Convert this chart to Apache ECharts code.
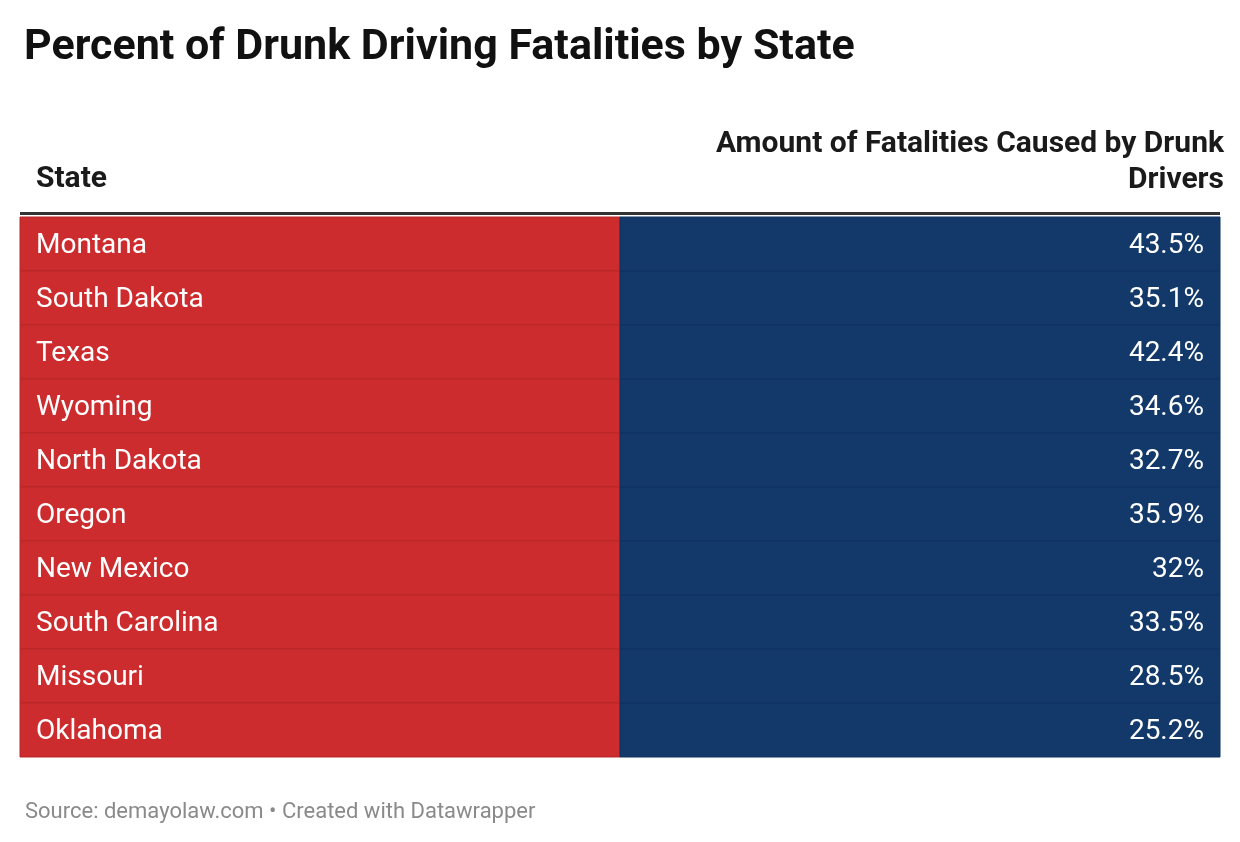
<!DOCTYPE html>
<html>
<head>
<meta charset="utf-8">
<script src="https://cdn.jsdelivr.net/npm/echarts@6/dist/echarts.min.js"></script>
<style>
	html, body { margin: 0; padding: 0; background: #fff; }
	#chart { width: 1240px; height: 842px; }
</style>
</head>
<body>
<div id="chart"></div>
<script>
var states = ['Montana', 'South Dakota', 'Texas', 'Wyoming', 'North Dakota', 'Oregon', 'New Mexico', 'South Carolina', 'Missouri', 'Oklahoma'];
var percentLabels = ['43.5%', '35.1%', '42.4%', '34.6%', '32.7%', '35.9%', '32%', '33.5%', '28.5%', '25.2%'];
var columnHeaders = ['State', 'Amount of Fatalities Caused by Drunk\nDrivers'];

var redColor = '#cd2c2e';
var blueColor = '#12396a';
var font = 'Roboto, "Noto Sans", sans-serif';

var myChart = echarts.init(document.getElementById('chart'));

var rows = states.map(function (s, i) {
	return [i, s, percentLabels[i]];
});

var option = {
	animation: false,
	title: [{
		text: 'Percent of Drunk Driving Fatalities by State',
		left: 19,
		top: 22,
		textStyle: { fontFamily: font, fontSize: 43, fontWeight: 'bold', color: '#111' }
	}, {
		text: 'Source: demayolaw.com • Created with Datawrapper',
		left: 20,
		top: 796,
		textStyle: { fontFamily: font, fontSize: 22, fontWeight: 'normal', color: '#8a8a8a' }
	}],
	grid: { left: 20, right: 20, top: 217, height: 540 },
	xAxis: { type: 'value', min: 0, max: 2, show: false },
	yAxis: { type: 'category', data: states, inverse: true, show: false },
	graphic: [{
		type: 'text', left: 36, top: 164,
		style: { text: columnHeaders[0], font: 'bold 30px ' + font, fill: '#1a1a1a' }
	}, {
		type: 'text', right: 16, top: 126,
		style: { text: columnHeaders[1], font: 'bold 30px ' + font, fill: '#1a1a1a', textAlign: 'right', lineHeight: 36 }
	}, {
		type: 'rect', left: 20, top: 212, shape: { width: 1200, height: 3 },
		style: { fill: '#333' }
	}],
	series: [{
		type: 'custom',
		data: rows,
		encode: { y: 0 },
		renderItem: function (params, api) {
			var idx = api.value(0);
			var p0 = api.coord([0, idx]);
			var p1 = api.coord([1, idx]);
			var p2 = api.coord([2, idx]);
			var h = api.size([0, 1])[1];
			var top = p0[1] - h / 2;
			var item = rows[params.dataIndex];
			return {
				type: 'group',
				children: [{
					type: 'rect',
					shape: { x: p0[0], y: top, width: p1[0] - p0[0], height: h },
					style: { fill: redColor, stroke: '#b82628', lineWidth: 1 }
				}, {
					type: 'rect',
					shape: { x: p1[0], y: top, width: p2[0] - p1[0], height: h },
					style: { fill: blueColor, stroke: '#0f3360', lineWidth: 1 }
				}, {
					type: 'text',
					style: {
						x: p0[0] + 16, y: p0[1] + 2, text: item[1],
						font: '28px ' + font, fill: '#fff', verticalAlign: 'middle'
					}
				}, {
					type: 'text',
					style: {
						x: p2[0] - 16, y: p0[1] + 2, text: item[2],
						font: '28px ' + font, fill: '#fff', textAlign: 'right', verticalAlign: 'middle'
					}
				}]
			};
		}
	}]
};

myChart.setOption(option);
</script>
</body>
</html>
